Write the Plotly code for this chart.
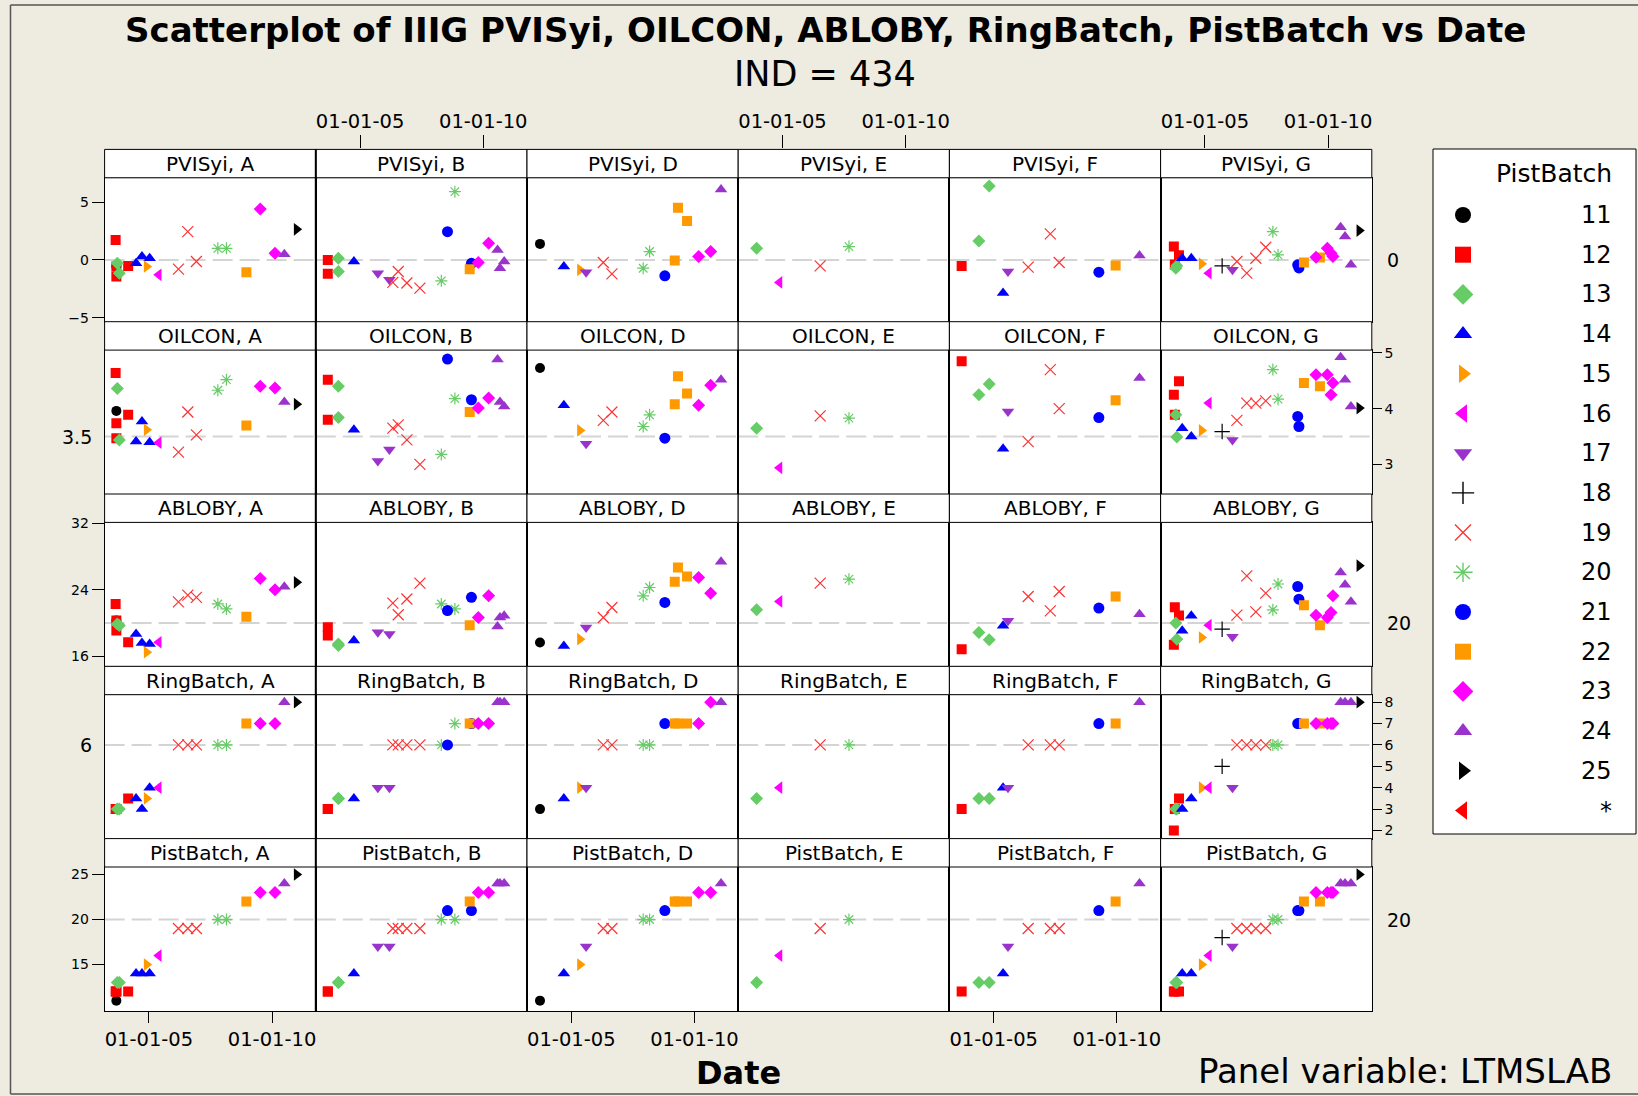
import numpy as np
import pandas as pd
import plotly.graph_objects as go

# ---------------------------------------------------------------- data
LABS = ["A", "B", "D", "E", "F", "G"]
VARS = ["PVISyi", "OILCON", "ABLOBY", "RingBatch", "PistBatch"]
REF_VALUES = [0, 3.5, 20, 6, 20]
Y_RANGES = [[-5.34, 7.09], [2.47, 5.05], [14.81, 32.1], [1.62, 8.35], [9.86, 25.83]]
Y_TICKS = [[-5, 0, 5], [3, 4, 5], [16, 24, 32], [2, 3, 4, 5, 6, 7, 8], [15, 20, 25]]
X_RANGE = ["2003-03-16", "2011-10-12"]
X_TICKS = ["2005-01-01", "2010-01-01"]
LEGEND_KEYS = [11, 12, 13, 14, 15, 16, 17, 18, 19, 20, 21, 22, 23, 24, 25, "*"]

# one entry per test: lab, date (decimal year), PistBatch, RingBatch, PVISyi, OILCON, ABLOBY
LAB = (["A"] * 22 + ["B"] * 21 + ["D"] * 15 + ["E"] * 4 + ["F"] * 11 + ["G"] * 29)
DATE = [
    2003.68, 2003.65, 2003.68, 2003.68, 2004.16, 2003.72, 2003.80, 2004.48, 2004.72, 2005.03,
    2004.91, 2005.40, 2006.20, 2006.58, 2006.93, 2007.80, 2008.15, 2008.96, 2009.52, 2010.12,
    2010.50, 2011.00,
    2003.69, 2003.69, 2004.12, 2004.12, 2004.75, 2005.72, 2006.19, 2006.33, 2006.55, 2006.90,
    2007.43, 2008.30, 2008.85, 2008.55, 2009.52, 2009.45, 2009.80, 2010.22, 2010.58, 2010.68,
    2010.85,
    2003.73, 2004.70, 2005.35, 2005.60, 2006.30, 2006.65, 2007.92, 2008.18, 2008.80, 2009.20,
    2009.33, 2009.70, 2010.17, 2010.66, 2011.08,
    2003.95, 2004.88, 2006.53, 2007.70,
    2003.70, 2004.40, 2004.82, 2005.38, 2005.58, 2006.40, 2007.30, 2007.66, 2009.27, 2009.95,
    2010.92,
    2003.74, 2003.78, 2003.95, 2003.82, 2003.86, 2004.08, 2004.45, 2004.87, 2005.16, 2005.70,
    2006.12, 2006.30, 2006.70, 2007.07, 2007.47, 2007.76, 2007.97, 2008.77, 2008.82, 2009.02,
    2009.67, 2009.51, 2009.97, 2010.12, 2010.20, 2010.51, 2010.69, 2010.93, 2011.27,
]
PIST = [
    11, 12, 12, 12, 12, 13, 13, 14, 14, 14, 15, 16, 19, 19, 19, 20, 20, 22, 23, 23, 24, 25,
    12, 12, 13, 13, 14, 17, 17, 19, 19, 19, 19, 20, 20, 21, 21, 22, 23, 23, 24, 24, 24,
    11, 14, 15, 17, 19, 19, 20, 20, 21, 22, 22, 22, 23, 23, 24,
    13, 16, 19, 20,
    12, 13, 13, 14, 17, 19, 19, 19, 21, 22, 24,
    12, 12, 12, 13, 13, 14, 14, 15, 16, 18, 17, 19, 19, 19, 19, 20, 20, 21, 21, 22, 22, 23,
    23, 23, 23, 24, 24, 24, 25,
]
RING = [
    3, 3, 3, 3, 3.5, 3, 3, 3.5, 3, 4, 3.5, 4, 6, 6, 6, 6, 6, 7, 7, 7, 8, 8,
    3, 3, 3.5, 3.5, 3.5, 4, 4, 6, 6, 6, 6, 6, 7, 6, 7, 7, 7, 7, 8, 8, 8,
    3, 3.5, 4, 4, 6, 6, 6, 6, 7, 7, 7, 7, 7, 8, 8,
    3.5, 4, 6, 6,
    3, 3.5, 3.5, 4, 4, 6, 6, 6, 7, 7, 8,
    2, 3, 3.5, 3, 3, 3, 3.5, 4, 4, 5, 4, 6, 6, 6, 6, 6, 6, 7, 7, 7, 7, 7, 7, 7, 7, 8, 8, 8, 8,
]
PVIS = [
    -0.57, 1.72, -0.57, -1.44, -0.52, -0.29, -1.15, -0.29, 0.3, 0.15, -0.57, -1.29, -0.8, 2.44,
    -0.14, 1.0, 1.0, -1.06, 4.4, 0.57, 0.49, 2.64,
    0.0, -1.2, 0.14, -1.0, -0.14, -1.15, -1.72, -1.95, -1.0, -2.0, -2.44, -1.81, 5.89, 2.44,
    -0.3, -0.8, -0.23, 1.44, 0.86, -0.72, -0.14,
    1.38, -0.57, -0.86, -1.06, -0.23, -1.21, -0.72, 0.72, -1.38, -0.06, 4.51, 3.36, 0.29, 0.72,
    6.09,
    1.0, -1.95, -0.52, 1.15,
    -0.52, 1.64, 6.38, -2.87, -1.0, -0.63, 2.24, -0.23, -1.06, -0.49, 0.37,
    1.15, -0.4, 0.4, -0.72, -0.5, 0.14, 0.14, -0.34, -1.15, -0.52, -0.86, -0.14, -1.15, 0.14,
    1.09, 2.44, 0.43, -0.43, -0.7, -0.23, 0.2, 0.23, 1.0, 0.57, 0.3, 2.82, 2.01, -0.43, 2.53,
]
OILCON = [
    3.96, 4.64, 3.74, 3.47, 3.89, 4.36, 3.44, 3.41, 3.77, 3.40, 3.62, 3.39, 3.22, 3.94, 3.53,
    4.33, 4.52, 3.70, 4.40, 4.37, 4.12, 4.08,
    4.52, 3.80, 4.40, 3.84, 3.62, 3.06, 3.27, 3.65, 3.71, 3.44, 3.00, 3.18, 4.18, 4.89, 4.16,
    3.94, 4.01, 4.19, 4.88, 4.12, 4.04,
    4.73, 4.06, 3.61, 3.37, 3.79, 3.94, 3.68, 3.89, 3.47, 4.08, 4.58, 4.27, 4.06, 4.42, 4.52,
    3.65, 2.94, 3.87, 3.83,
    4.85, 4.25, 4.44, 3.28, 3.95, 3.41, 4.70, 4.00, 3.84, 4.15, 4.55,
    4.25, 3.89, 4.49, 3.89, 3.49, 3.65, 3.50, 3.61, 4.10, 3.59, 3.44, 3.79, 4.10, 4.10, 4.14,
    4.70, 4.17, 3.86, 3.68, 4.46, 4.40, 4.61, 4.61, 4.25, 4.46, 4.92, 4.52, 4.04, 4.01,
]
ABLOBY = [
    20.3, 22.3, 20.3, 19.1, 17.7, 19.9, 19.7, 18.7, 17.6, 17.5, 16.5, 17.7, 22.56, 23.36, 23.1,
    22.3, 21.7, 20.75, 25.36, 24.0, 24.36, 24.9,
    19.5, 18.5, 17.5, 17.3, 17.9, 18.9, 18.7, 22.4, 21.0, 22.9, 24.8, 22.3, 21.7, 21.5, 23.1,
    19.75, 20.67, 23.28, 19.6, 20.67, 20.87,
    17.66, 17.26, 18.07, 19.47, 20.67, 21.87, 23.28, 24.28, 22.48, 24.96, 26.69, 25.6, 25.48,
    23.6, 27.37,
    21.6, 22.6, 24.8, 25.28,
    16.86, 18.87, 17.99, 19.67, 20.27, 23.2, 21.47, 23.8, 21.8, 23.2, 21.07,
    17.4, 21.9, 20.9, 20.0, 18.07, 19.07, 20.87, 18.27, 19.75, 19.27, 18.35, 20.95, 25.68,
    21.35, 23.6, 21.6, 24.7, 24.4, 22.88, 22.16, 19.75, 20.95, 20.67, 21.27, 23.28, 26.08,
    24.6, 22.56, 26.9,
]

# ---------------------------------------------------------------- styles
STYLE = {
    11: ("circle", "#000000", 10),
    12: ("square", "#FF0000", 10),
    13: ("diamond", "#66CC66", 10),
    14: ("triangle-up", "#0000FF", 11),
    15: ("triangle-right", "#FF9900", 11),
    16: ("triangle-left", "#FF00FF", 11),
    17: ("triangle-down", "#9933CC", 11),
    18: ("cross-thin-open", "#000000", 11),
    19: ("x-thin-open", "#FF3333", 11),
    20: ("asterisk-open", "#66CC66", 10),
    21: ("circle", "#0000FF", 11),
    22: ("square", "#FF9900", 10),
    23: ("diamond", "#FF00FF", 10),
    24: ("triangle-up", "#9933CC", 11),
    25: ("triangle-right", "#000000", 11),
    "*": ("triangle-left", "#FF0000", 11),
}

FONT = "DejaVu Sans"
W, H = 1638, 1096
BG = "#EEEBE1"

# panel geometry in pixels
COL_X = [104.6, 315.8, 527.0, 738.2, 949.4, 1160.6, 1371.8]
STRIP_TOP = 149.4
ROW_PITCH = 172.3
STRIP_H = 28.4


def px_x(p):
    return p / W


def px_y(p):
    return 1 - p / H


def to_date(v):
    y = int(np.floor(v))
    return pd.Timestamp(year=y, month=1, day=1) + pd.to_timedelta((v - y) * 365.25, unit="D")


df = pd.DataFrame({
    "lab": LAB, "date": [to_date(v) for v in DATE], "PistBatch": PIST,
    "RingBatch": RING, "PVISyi": PVIS, "OILCON": OILCON, "ABLOBY": ABLOBY,
})


def open_symbol(sym):
    return sym.endswith("-open")


fig = go.Figure()
layout = {}
shapes = []
annotations = []


def ax_name(prefix, k):
    return prefix if k == 1 else f"{prefix}{k}"


for r, var in enumerate(VARS):
    strip_top = STRIP_TOP + ROW_PITCH * r
    plot_top = strip_top + STRIP_H
    plot_bot = STRIP_TOP + ROW_PITCH * (r + 1)
    for c, lab in enumerate(LABS):
        k = r * 6 + c + 1
        sub = df[df["lab"] == lab]
        syms = [STYLE[p][0] for p in sub["PistBatch"]]
        cols = [STYLE[p][1] for p in sub["PistBatch"]]
        sizes = [STYLE[p][2] for p in sub["PistBatch"]]
        lw = [1.2 if open_symbol(s) else 0 for s in syms]
        fig.add_trace(go.Scatter(
            x=sub["date"], y=sub[var], mode="markers",
            xaxis=ax_name("x", k), yaxis=ax_name("y", k),
            marker=dict(symbol=syms, color=cols, size=sizes, opacity=1,
                        line=dict(color=cols, width=lw)),
            showlegend=False, hoverinfo="skip",
        ))

        xa = dict(domain=[px_x(COL_X[c]), px_x(COL_X[c + 1])], range=X_RANGE, type="date",
                  anchor=ax_name("y", k), showline=True, mirror=True, linecolor="black",
                  linewidth=1, showgrid=False, zeroline=False, ticks="", automargin=False,
                  showticklabels=False, fixedrange=True)
        if r == 4 and c in (0, 2, 4):
            xa.update(ticks="outside", ticklen=11, tickcolor="black", tickwidth=1,
                      tickvals=X_TICKS, tickformat="%m-%d-%y", showticklabels=True,
                      tickfont=dict(family=FONT, size=19.5, color="black"))
        ya = dict(domain=[px_y(plot_bot), px_y(plot_top)], range=Y_RANGES[r],
                  anchor=ax_name("x", k), showline=True, mirror=True, linecolor="black",
                  linewidth=1, showgrid=False, zeroline=False, ticks="", automargin=False,
                  showticklabels=False, fixedrange=True)
        if c == 0 and r in (0, 2, 4):
            ya.update(ticks="outside", ticklen=12, tickcolor="black", tickvals=Y_TICKS[r],
                      showticklabels=True, tickfont=dict(family=FONT, size=14, color="black"))
        if c == 5 and r in (1, 3):
            ya.update(side="right", ticks="outside", ticklen=9, tickcolor="black",
                      tickvals=Y_TICKS[r], showticklabels=True,
                      tickfont=dict(family=FONT, size=14, color="black"))
        layout[ax_name("xaxis", k)] = xa
        layout[ax_name("yaxis", k)] = ya

        # dashed reference line
        shapes.append(dict(type="line", xref=f"{ax_name('x', k)} domain", x0=0, x1=1,
                           yref=ax_name("y", k), y0=REF_VALUES[r], y1=REF_VALUES[r],
                           line=dict(color="#D4D4D4", width=2, dash="20px,7px"),
                           layer="below"))
        # strip header
        shapes.append(dict(type="rect", xref="paper", yref="paper",
                           x0=px_x(COL_X[c]), x1=px_x(COL_X[c + 1]),
                           y0=px_y(plot_top), y1=px_y(strip_top),
                           fillcolor="white", line=dict(color="black", width=1), layer="above"))
        annotations.append(dict(text=f"{var}, {lab}", xref="paper", yref="paper",
                                x=px_x((COL_X[c] + COL_X[c + 1]) / 2),
                                y=px_y(strip_top + STRIP_H / 2), showarrow=False,
                                xanchor="center", yanchor="middle",
                                font=dict(family=FONT, size=20, color="black")))

# heavier divider between the first and second panel columns
shapes.append(dict(type="line", xref="paper", yref="paper", x0=px_x(COL_X[1]), x1=px_x(COL_X[1]),
                   y0=px_y(STRIP_TOP + ROW_PITCH * 5), y1=px_y(STRIP_TOP),
                   line=dict(color="black", width=2), layer="above"))

# date ticks above the top strips for the second, fourth and sixth panels
for j, c in enumerate((1, 3, 5)):
    k = 31 + j
    fig.add_trace(go.Scatter(x=[], y=[], xaxis=f"x{k}", yaxis=f"y{k}",
                             showlegend=False, hoverinfo="skip"))
    layout[f"xaxis{k}"] = dict(domain=[px_x(COL_X[c]), px_x(COL_X[c + 1])], range=X_RANGE,
                               type="date", anchor=f"y{k}", side="top", showline=False,
                               showgrid=False, zeroline=False, ticks="outside", ticklen=13,
                               tickcolor="black", tickvals=X_TICKS, tickformat="%m-%d-%y",
                               tickfont=dict(family=FONT, size=19.5, color="black"),
                               automargin=False, fixedrange=True)
    layout[f"yaxis{k}"] = dict(domain=[px_y(STRIP_TOP + STRIP_H), px_y(STRIP_TOP)],
                               anchor=f"x{k}", visible=False, range=[0, 1],
                               automargin=False, fixedrange=True)

# reference line labels
ref_labels = [(0, 5, "left"), (1, 0, "right"), (2, 5, "left"), (3, 0, "right"), (4, 5, "left")]
for r, c, side in ref_labels:
    k = r * 6 + c + 1
    annotations.append(dict(
        text=f"{REF_VALUES[r]:g}", xref="paper", yref=ax_name("y", k),
        x=px_x(1385) if side == "left" else px_x(94), y=REF_VALUES[r],
        xanchor=side, yanchor="middle", showarrow=False,
        font=dict(family=FONT, size=19, color="black")))

# legend panel
LEG_L, LEG_R, LEG_T, LEG_B = 1433, 1636, 149, 834
k = 34
layout[f"xaxis{k}"] = dict(domain=[px_x(LEG_L), px_x(LEG_R)], range=[0, LEG_R - LEG_L],
                           anchor=f"y{k}", visible=False, automargin=False, fixedrange=True)
layout[f"yaxis{k}"] = dict(domain=[px_y(LEG_B), px_y(LEG_T)], range=[LEG_B - LEG_T, 0],
                           anchor=f"x{k}", visible=False, automargin=False, fixedrange=True)
leg_y = [66 + 39.7 * i for i in range(len(LEGEND_KEYS))]
leg_syms = [STYLE[key][0] for key in LEGEND_KEYS]
leg_cols = [STYLE[key][1] for key in LEGEND_KEYS]
fig.add_trace(go.Scatter(
    x=[30] * len(LEGEND_KEYS), y=leg_y, mode="markers", xaxis=f"x{k}", yaxis=f"y{k}",
    marker=dict(symbol=leg_syms, color=leg_cols, size=16, opacity=1,
                line=dict(color=leg_cols, width=[1.4 if open_symbol(s) else 0 for s in leg_syms])),
    showlegend=False, hoverinfo="skip"))
shapes.append(dict(type="rect", xref="paper", yref="paper", x0=px_x(LEG_L), x1=px_x(LEG_R),
                   y0=px_y(LEG_B), y1=px_y(LEG_T), line=dict(color="black", width=1),
                   layer="above"))
annotations.append(dict(text="PistBatch", xref=f"x{k}", yref=f"y{k}", x=181, y=24.5,
                        xanchor="right", yanchor="middle", showarrow=False,
                        font=dict(family=FONT, size=25, color="black")))
for key, yy in zip(LEGEND_KEYS, leg_y):
    annotations.append(dict(text=str(key), xref=f"x{k}", yref=f"y{k}", x=181, y=yy,
                            xanchor="right", yanchor="middle", showarrow=False,
                            font=dict(family=FONT, size=24, color="black")))

# titles
annotations += [
    dict(text="<b>Scatterplot of IIIG PVISyi, OILCON, ABLOBY, RingBatch, PistBatch vs Date</b>",
         xref="paper", yref="paper", x=px_x(825), y=px_y(30), xanchor="center",
         yanchor="middle", showarrow=False, font=dict(family=FONT, size=34, color="black")),
    dict(text="IND = 434", xref="paper", yref="paper", x=px_x(825), y=px_y(74),
         xanchor="center", yanchor="middle", showarrow=False,
         font=dict(family=FONT, size=35, color="black")),
    dict(text="<b>Date</b>", xref="paper", yref="paper", x=px_x(738.5), y=px_y(1073),
         xanchor="center", yanchor="middle", showarrow=False,
         font=dict(family=FONT, size=32, color="black")),
    dict(text="Panel variable: LTMSLAB", xref="paper", yref="paper", x=px_x(1614),
         y=px_y(1071), xanchor="right", yanchor="middle", showarrow=False,
         font=dict(family=FONT, size=34, color="black")),
]

# outer frame of the graph window
shapes += [
    dict(type="line", xref="paper", yref="paper", x0=px_x(10.5), x1=px_x(10.5),
         y0=px_y(1094), y1=px_y(5), line=dict(color="#555555", width=1.5)),
    dict(type="line", xref="paper", yref="paper", x0=px_x(10.5), x1=1,
         y0=px_y(5), y1=px_y(5), line=dict(color="#555555", width=1.5)),
    dict(type="line", xref="paper", yref="paper", x0=px_x(10.5), x1=1,
         y0=px_y(1094), y1=px_y(1094), line=dict(color="#555555", width=1.5)),
]

fig.update_layout(
    width=W, height=H, margin=dict(l=0, r=0, t=0, b=0, pad=0), autosize=False,
    paper_bgcolor=BG, plot_bgcolor="white", showlegend=False,
    shapes=shapes, annotations=annotations, **layout,
)

fig.write_html("out.html")
